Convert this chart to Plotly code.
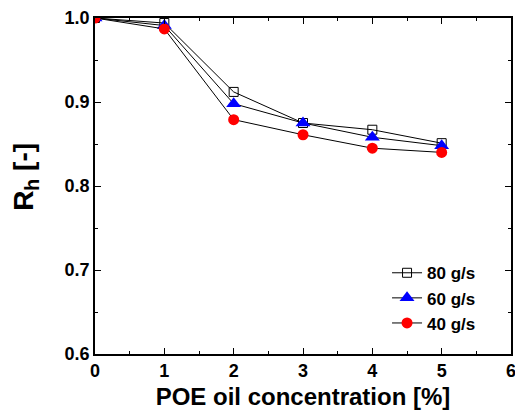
import plotly.graph_objects as go

conc = [0, 1, 2, 3, 4, 5]
rh_80 = [1.0, 0.994, 0.912, 0.875, 0.867, 0.851]
rh_60 = [1.0, 0.991, 0.898, 0.875, 0.858, 0.848]
rh_40 = [1.0, 0.987, 0.879, 0.861, 0.845, 0.840]
names = ["80 g/s", "60 g/s", "40 g/s"]
x_title = "POE oil concentration [%]"
y_title = "R<sub>h</sub> [-]"

FONT = "Liberation Sans, Arial, sans-serif"

fig = go.Figure()
styles = [
    dict(symbol="square-open", color="black", size=9),
    dict(symbol="triangle-up", color="blue", size=13),
    dict(symbol="circle", color="red", size=11),
]
for ys, name, st in zip([rh_80, rh_60, rh_40], names, styles):
    fig.add_trace(go.Scatter(
        x=conc, y=ys, name=name, mode="lines+markers",
        line=dict(color="black", width=1),
        marker=dict(symbol=st["symbol"], color=st["color"], size=st["size"],
                    line=dict(width=1 if st["symbol"] == "square-open" else 0,
                              color="black")),
    ))

axis_common = dict(
    showline=True, linecolor="black", linewidth=1.5, mirror="ticks",
    ticks="inside", ticklen=6, tickwidth=1, tickcolor="black",
    showgrid=False, zeroline=False, automargin=False,
    tickfont=dict(family=FONT, size=18, color="black", weight="bold"),
)

fig.update_xaxes(range=[0, 6], dtick=1,
                 minor=dict(dtick=0.5, ticks="inside", ticklen=3, tickcolor="black"),
                 title=dict(text=x_title, standoff=8,
                            font=dict(family=FONT, size=24, color="black", weight="bold")),
                 **axis_common)
fig.update_yaxes(range=[0.6, 1.0], dtick=0.1, tickformat=".1f",
                 minor=dict(dtick=0.05, ticks="inside", ticklen=3, tickcolor="black"),
                 **axis_common)

fig.add_annotation(
    text=y_title, textangle=-90, xref="paper", yref="paper",
    x=-0.166, y=0.527, xanchor="center", yanchor="middle", showarrow=False,
    font=dict(family=FONT, size=28, color="black", weight="bold"),
)

fig.update_layout(
    width=515, height=411,
    margin=dict(l=87, r=12, t=10, b=65),
    plot_bgcolor="white", paper_bgcolor="white",
    showlegend=True,
    legend=dict(x=0.702, y=0.294, xanchor="left", yanchor="top",
                bgcolor="rgba(0,0,0,0)", borderwidth=0,
                font=dict(family=FONT, size=17, color="black", weight="bold"),
                tracegroupgap=0, itemwidth=30),
)

fig.write_html("out.html")
